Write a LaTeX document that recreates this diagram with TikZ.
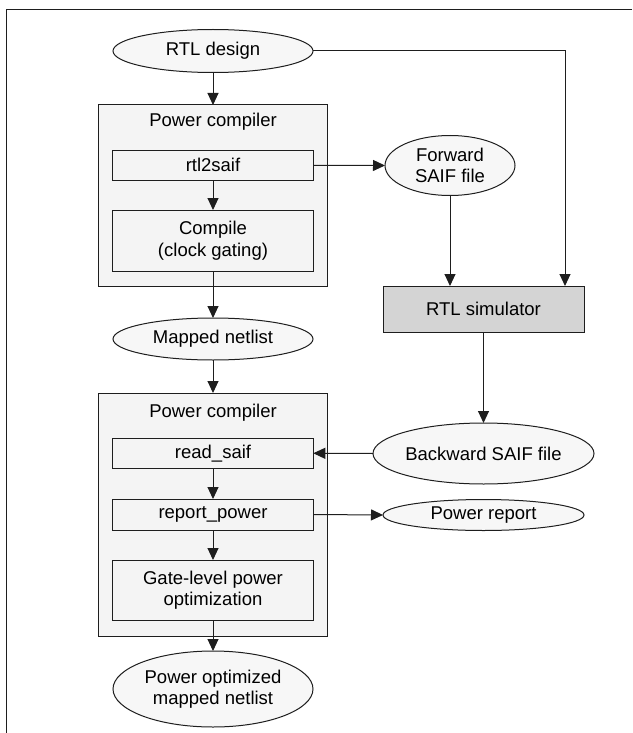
\documentclass[tikz,border=0pt]{standalone}
\usepackage{fontspec}
\setmainfont{Liberation Sans}
\usetikzlibrary{shapes.geometric,arrows.meta}
\definecolor{linec}{HTML}{1E1E1E}
\definecolor{boxfill}{HTML}{F4F4F4}
\definecolor{ellfill}{HTML}{F7F7F7}
\definecolor{simfill}{HTML}{D4D4D4}
\begin{document}
\begin{tikzpicture}[x=1pt,y=-1pt,
  every node/.style={font=\fontsize{18.5}{21.5}\selectfont, inner sep=0pt, outer sep=0pt},
  ell/.style={ellipse, draw=linec, fill=ellfill, line width=1pt, align=center},
  inbox/.style={rectangle, draw=linec, fill=boxfill, line width=1pt, align=center, minimum width=200.6pt},
  outbox/.style={rectangle, draw=linec, fill=boxfill, line width=1pt, minimum width=228.6pt},
  conn/.style={draw=linec, line width=1pt, -{Triangle[length=12pt,width=11pt]}},
  frameline/.style={draw=linec, line width=1.5pt}]
\useasboundingbox (0,0) rectangle (632,733);
\draw[frameline] (632,9.5) -- (6.5,9.5) -- (6.5,733);

% left column
\node[ell, minimum width=200pt, minimum height=43pt] (rtl) at (213,51) {RTL design};
\node[outbox, minimum height=181pt] (pc1) at (213,195.5) {};
\node (pc1t) at (213,121.5) {Power compiler};
\node[inbox, minimum height=30.5pt] (r2s) at (213,165.25) {rtl2saif};
\node[inbox, minimum height=61pt] (comp) at (213,240.5) {Compile\\(clock gating)};
\node[ell, minimum width=200pt, minimum height=42pt] (mapped) at (213,339) {Mapped netlist};
\node[outbox, minimum height=243pt] (pc2) at (213,514.5) {};
\node (pc2t) at (213,413) {Power compiler};
\node[inbox, minimum height=30.5pt] (rs) at (213,453.25) {read\_saif};
\node[inbox, minimum height=31pt] (rp) at (213,514.5) {report\_power};
\node[inbox, minimum height=60.5pt] (gate) at (213,590.25) {Gate-level power\\optimization};
\node[ell, minimum width=200pt, minimum height=76pt] (popt) at (213,689) {Power optimized\\mapped netlist};

% right column
\node[ell, minimum width=130pt, minimum height=60pt] (fwd) at (450,165.5) {Forward\\SAIF file};
\node[rectangle, draw=linec, fill=simfill, line width=1pt, minimum width=201pt, minimum height=46pt] (sim) at (483.5,309) {RTL simulator};
\node[ell, minimum width=201pt, minimum height=61pt] (bwd) at (483.5,453.5) {Backward SAIF file};
\node[ell, minimum width=201pt, minimum height=31pt] (prep) at (483.5,515) {Power report};

% connectors
\draw[conn] (rtl.south) -- (pc1.north);
\draw[conn] (rtl.east) -| ([xshift=-19pt]sim.north east);
\draw[conn] (r2s.east) -- (fwd.west);
\draw[conn] (r2s.south) -- (comp.north);
\draw[conn] (fwd.south) -- (fwd.south |- sim.north);
\draw[conn] (comp.south) -- (mapped.north);
\draw[conn] (mapped.south) -- (pc2.north);
\draw[conn] (sim.south) -- (bwd.north);
\draw[conn] (bwd.west) -- (rs.east);
\draw[conn] (rs.south) -- (rp.north);
\draw[conn] (rp.east) -- (prep.west);
\draw[conn] (rp.south) -- (gate.north);
\draw[conn] (gate.south) -- (popt.north);
\end{tikzpicture}
\end{document}
